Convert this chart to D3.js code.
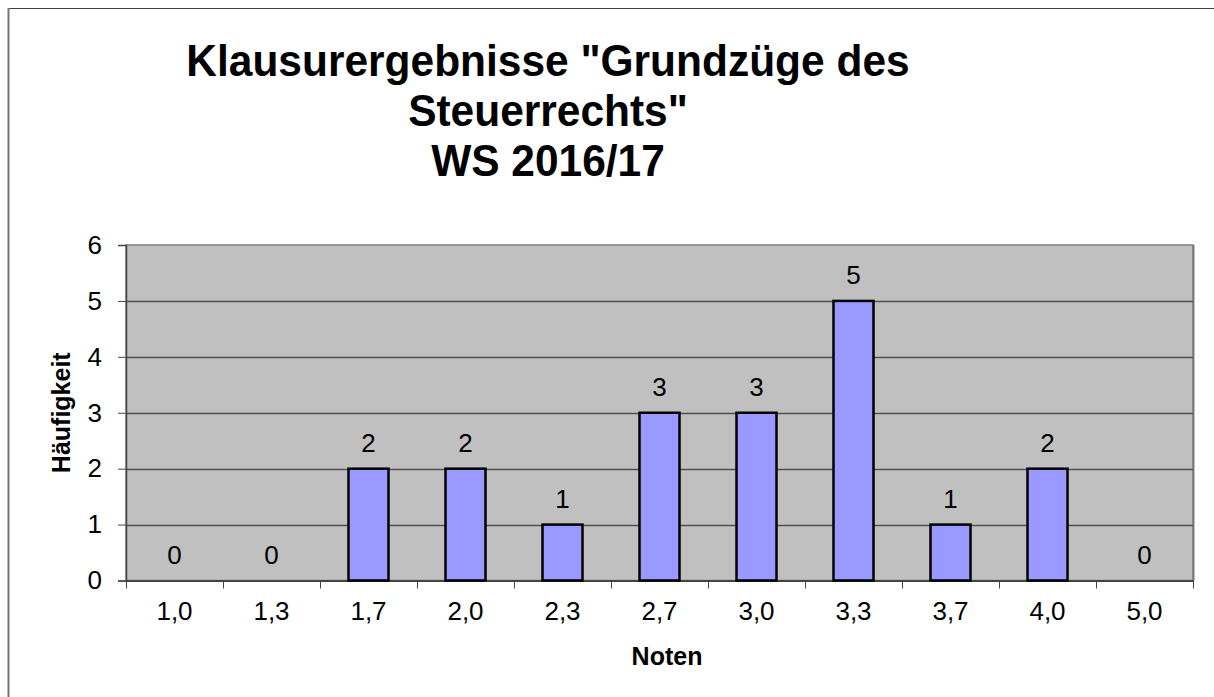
<!DOCTYPE html>
<html>
<head>
<meta charset="utf-8">
<script src="https://cdn.jsdelivr.net/npm/d3@7"></script>
<style>
  html, body { margin: 0; padding: 0; background: #fff; }
  svg { display: block; font-family: "Liberation Sans", Arial, sans-serif; }
</style>
</head>
<body>
<svg id="chart" width="1214" height="697"></svg>
<script>
const categories = ["1,0","1,3","1,7","2,0","2,3","2,7","3,0","3,3","3,7","4,0","5,0"];
const values = [0,0,2,2,1,3,3,5,1,2,0];
const yTicks = [0,1,2,3,4,5,6];
const titleLines = ['Klausurergebnisse "Grundzüge des', 'Steuerrechts"', 'WS 2016/17'];
const xTitle = "Noten";
const yTitle = "Häufigkeit";

const svg = d3.select("#chart");
const plot = {left: 126, top: 245, right: 1193, bottom: 580.5};
const labelFont = 26;

// outer chart border (top & left visible)
svg.append("line").attr("x1", 8).attr("y1", 8.5).attr("x2", 1214).attr("y2", 8.5)
  .attr("stroke", "#444").attr("stroke-width", 1);
svg.append("line").attr("x1", 8.5).attr("y1", 8).attr("x2", 8.5).attr("y2", 697)
  .attr("stroke", "#777").attr("stroke-width", 2);

const x = d3.scaleBand().domain(categories).range([plot.left, plot.right]).paddingInner(0).paddingOuter(0);
const y = d3.scaleLinear().domain([0, 6]).range([plot.bottom, plot.top]);

// plot background
svg.append("rect").attr("x", plot.left).attr("y", plot.top)
  .attr("width", plot.right - plot.left).attr("height", plot.bottom - plot.top)
  .attr("fill", "#C0C0C0").attr("stroke", "#808080").attr("stroke-width", 1.5);
svg.append("line").attr("x1", plot.right + 0.5).attr("x2", plot.right + 0.5)
  .attr("y1", plot.top).attr("y2", plot.bottom).attr("stroke", "#7a7a7a").attr("stroke-width", 2);

// gridlines
svg.append("g").selectAll("line").data(yTicks.filter(d => d > 0 && d < 6)).join("line")
  .attr("x1", plot.left).attr("x2", plot.right)
  .attr("y1", d => Math.round(y(d)) + 0.5).attr("y2", d => Math.round(y(d)) + 0.5)
  .attr("stroke", "#505050").attr("stroke-width", 1.3);

// y axis
const yAxis = d3.axisLeft(y).tickValues(yTicks).tickSize(8).tickPadding(16).tickFormat(d3.format("d"));
const gy = svg.append("g").attr("transform", `translate(${plot.left},0)`).call(yAxis);
gy.select(".domain").attr("stroke", "#444").attr("stroke-width", 1.5);
gy.selectAll(".tick line").attr("stroke", "#444");
gy.selectAll(".tick text").attr("font-size", labelFont).attr("fill", "#000")
  .attr("font-family", "Liberation Sans, Arial, sans-serif");

// x axis
const xAxis = d3.axisBottom(x).tickSize(0).tickPadding(21);
const gx = svg.append("g").attr("transform", `translate(0,${plot.bottom})`).call(xAxis);
gx.select(".domain").attr("stroke", "#444").attr("stroke-width", 2);
gx.selectAll(".tick text").attr("font-size", labelFont).attr("fill", "#000")
  .attr("font-family", "Liberation Sans, Arial, sans-serif");
// boundary ticks
const bounds = categories.map(c => x(c)).concat([plot.right]);
svg.append("g").selectAll("line").data(bounds).join("line")
  .attr("x1", d => Math.round(d) + 0.5).attr("x2", d => Math.round(d) + 0.5)
  .attr("y1", plot.bottom).attr("y2", plot.bottom + 8)
  .attr("stroke", "#444").attr("stroke-width", 1);

// bars
const barW = 40;
svg.append("g").selectAll("rect").data(values.map((v, i) => ({c: categories[i], v})).filter(d => d.v > 0)).join("rect")
  .attr("x", d => x(d.c) + x.bandwidth() / 2 - barW / 2)
  .attr("y", d => y(d.v))
  .attr("width", barW)
  .attr("height", d => y(0) - y(d.v))
  .attr("fill", "#9999FF").attr("stroke", "#000").attr("stroke-width", 2.5);

// data labels
svg.append("g").selectAll("text").data(values.map((v, i) => ({c: categories[i], v}))).join("text")
  .attr("x", d => x(d.c) + x.bandwidth() / 2)
  .attr("y", d => y(d.v) - 17)
  .attr("text-anchor", "middle").attr("font-size", labelFont).attr("fill", "#000")
  .text(d => d.v);

// title (slightly condensed like the original)
const titleSel = svg.append("g").selectAll("text").data(titleLines).join("text")
  .attr("x", 548).attr("y", (d, i) => 76 + i * 50)
  .attr("text-anchor", "middle").attr("font-size", 44).attr("font-weight", "bold").attr("fill", "#000")
  .text(d => d);
titleSel.each(function() {
  const w = this.getComputedTextLength();
  d3.select(this).attr("textLength", w * 0.965).attr("lengthAdjust", "spacingAndGlyphs");
});

// axis titles
svg.append("text").attr("x", 667).attr("y", 665)
  .attr("text-anchor", "middle").attr("font-size", 25).attr("font-weight", "bold").text(xTitle);
svg.append("text").attr("transform", `translate(70,${(plot.top + plot.bottom) / 2}) rotate(-90)`)
  .attr("text-anchor", "middle").attr("font-size", 25).attr("font-weight", "bold").text(yTitle);
</script>
</body>
</html>
